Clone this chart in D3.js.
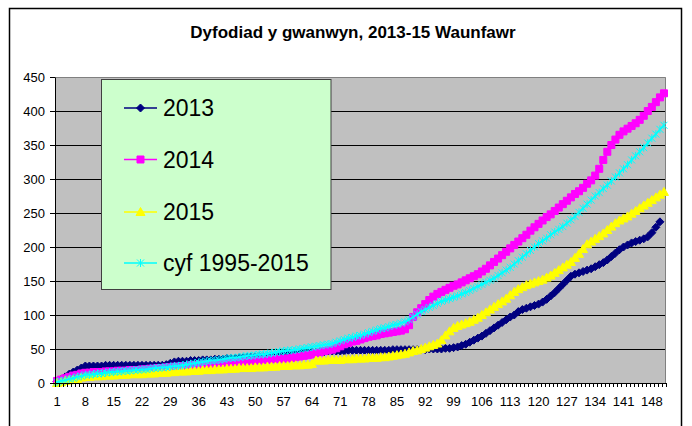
<!DOCTYPE html>
<html>
<head>
<meta charset="utf-8">
<title>Dyfodiad y gwanwyn, 2013-15 Waunfawr</title>
<script src="https://cdn.jsdelivr.net/npm/d3@7"></script>
<style>
	body { margin: 0; background: #fff; }
	svg { display: block; font-family: "Liberation Sans", Arial, sans-serif; }
</style>
</head>
<body>
<div id="chart"></div>
<script>

// day numbers along the x axis (1 .. 151)
var days = d3.range(1, 152);
var dayLabels = [1, 8, 15, 22, 29, 36, 43, 50, 57, 64, 71, 78, 85, 92, 99, 106, 113, 120, 127, 134, 141, 148];
var yTicks = [0, 50, 100, 150, 200, 250, 300, 350, 400, 450];

var seriesNames = ["2013", "2014", "2015", "cyf 1995-2015"];

// cumulative counts, one value per day
var counts2013 = [
	2, 5, 9, 13, 16, 19, 22, 25, 25, 25,
	25, 25, 26, 26, 26, 26, 26, 26, 26, 26,
	26, 26, 26, 26, 26, 26, 26, 27, 29, 31,
	32, 32, 32, 33, 33, 33, 34, 34, 34, 35,
	35, 35, 36, 36, 36, 37, 37, 38, 38, 38,
	39, 39, 39, 40, 40, 41, 41, 42, 42, 43,
	43, 44, 44, 45, 45, 46, 46, 47, 47, 47,
	47, 47, 48, 48, 48, 48, 48, 48, 48, 48,
	48, 48, 48, 49, 49, 49, 49, 49, 49, 49,
	49, 49, 50, 50, 50, 50, 51, 51, 52, 53,
	55, 57, 60, 63, 66, 69, 73, 77, 81, 85,
	89, 93, 97, 100, 105, 108, 110, 112, 114, 116,
	119, 123, 128, 133, 139, 145, 151, 157, 160, 162,
	164, 166, 168, 171, 174, 177, 181, 186, 191, 196,
	200, 203, 206, 208, 210, 212, 215, 221, 229, 237
];
var counts2014 = [
	3, 5, 7, 9, 11, 12, 14, 15, 15, 16,
	16, 16, 17, 17, 17, 18, 18, 18, 19, 19,
	19, 20, 20, 21, 21, 22, 22, 23, 23, 24,
	24, 25, 25, 26, 26, 27, 27, 28, 28, 28,
	29, 29, 29, 30, 30, 31, 31, 32, 32, 33,
	33, 34, 34, 35, 35, 35, 36, 36, 37, 38,
	39, 40, 41, 42, 44, 45, 47, 48, 49, 51,
	54, 57, 59, 61, 62, 64, 66, 68, 69, 70,
	72, 73, 74, 75, 76, 77, 79, 85, 97, 104,
	110, 116, 122, 127, 131, 134, 137, 140, 143, 145,
	148, 151, 154, 157, 160, 164, 168, 173, 178, 183,
	188, 193, 198, 203, 208, 213, 218, 224, 229, 234,
	239, 244, 248, 253, 258, 263, 268, 273, 278, 282,
	287, 293, 298, 305, 315, 328, 340, 350, 358, 365,
	370, 374, 378, 382, 387, 393, 400, 406, 413, 420,
	426
];
var counts2015 = [
	0, 1, 3, 4, 5, 6, 8, 9, 9, 10,
	10, 10, 11, 11, 11, 12, 12, 12, 13, 13,
	13, 13, 14, 14, 14, 15, 15, 15, 16, 16,
	17, 17, 17, 18, 18, 18, 19, 19, 19, 20,
	20, 20, 21, 21, 21, 22, 22, 22, 22, 23,
	23, 23, 24, 24, 24, 25, 25, 25, 26, 26,
	26, 27, 27, 28, 33, 33, 33, 34, 34, 34,
	34, 35, 35, 35, 36, 36, 36, 37, 37, 37,
	38, 38, 39, 40, 41, 42, 43, 45, 47, 48,
	50, 52, 54, 56, 58, 63, 70, 76, 81, 84,
	86, 88, 90, 93, 96, 100, 104, 108, 112, 116,
	120, 124, 129, 134, 138, 141, 144, 146, 148, 150,
	152, 155, 158, 162, 166, 170, 174, 178, 184, 190,
	197, 204, 208, 212, 216, 220, 225, 230, 235, 239,
	242, 245, 249, 253, 257, 261, 265, 269, 273, 277,
	281
];
var countsAvg = [
	1, 3, 4, 6, 7, 9, 10, 12, 12, 13,
	14, 14, 15, 16, 16, 17, 17, 18, 18, 19,
	19, 20, 20, 21, 22, 22, 23, 23, 24, 25,
	25, 26, 27, 28, 29, 30, 31, 32, 33, 33,
	34, 35, 36, 37, 37, 38, 39, 40, 40, 41,
	42, 42, 43, 44, 45, 46, 47, 48, 48, 49,
	50, 51, 52, 53, 54, 55, 56, 57, 58, 60,
	62, 64, 66, 67, 69, 70, 72, 74, 76, 78,
	80, 81, 83, 85, 86, 88, 90, 93, 97, 101,
	105, 108, 111, 114, 117, 120, 122, 124, 126, 128,
	131, 133, 136, 139, 142, 145, 148, 151, 154, 158,
	162, 166, 170, 175, 180, 185, 190, 195, 200, 205,
	209, 213, 218, 222, 226, 230, 235, 240, 245, 251,
	257, 263, 269, 275, 280, 286, 291, 297, 303, 309,
	315, 321, 328, 334, 340, 346, 353, 360, 366, 373,
	379
];

// marker shapes, Excel style
var markers = {
	diamond: { d: "M0,-4L4,0L0,4L-4,0Z", fill: true },
	square: { d: "M-3.5,-3.5H3.5V3.5H-3.5Z", fill: true },
	triangle: { d: "M0,-4.5L4.5,3.5H-4.5Z", fill: true },
	star: { d: "M-3.5,-3.5L3.5,3.5M-3.5,3.5L3.5,-3.5M0,-4V4", fill: false }
};

var series = [
	{ name: seriesNames[0], values: counts2013, color: "#000080", marker: markers.diamond },
	{ name: seriesNames[1], values: counts2014, color: "#ff00ff", marker: markers.square },
	{ name: seriesNames[2], values: counts2015, color: "#ffff00", marker: markers.triangle },
	{ name: seriesNames[3], values: countsAvg, color: "#00ffff", marker: markers.star }
];

var vis = {};
vis.margin = { top: 77, left: 55 };
vis.width = 611;
vis.height = 306;

vis.svg = d3.select("#chart").append("svg")
	.attr("width", 692)
	.attr("height", 426);

// chart frame
vis.svg.append("rect")
	.attr("x", 9.5).attr("y", 8.5)
	.attr("width", 672).attr("height", 430)
	.attr("fill", "#fff")
	.attr("stroke", "#000")
	.attr("stroke-width", 1.5);

vis.svg.append("text")
	.attr("x", 353).attr("y", 38)
	.attr("text-anchor", "middle")
	.attr("font-size", 17)
	.attr("font-weight", "bold")
	.text("Dyfodiad y gwanwyn, 2013-15 Waunfawr");

var g = vis.svg.append("g")
	.attr("transform", "translate(" + vis.margin.left + "," + vis.margin.top + ")");

var x = d3.scaleBand().domain(days).range([0, vis.width]);
var y = d3.scaleLinear().domain([0, 450]).range([vis.height, 0]);
var cx = function(i) { return x(days[i]) + x.bandwidth() / 2; };

// plot area
g.append("rect")
	.attr("width", vis.width).attr("height", vis.height)
	.attr("fill", "#c0c0c0");

g.selectAll(".grid").data(yTicks.filter(function(t) { return t > 0 && t < 450; }))
	.enter().append("line")
	.attr("class", "grid")
	.attr("x1", 0).attr("x2", vis.width)
	.attr("y1", function(d) { return Math.round(y(d)) + 0.5; })
	.attr("y2", function(d) { return Math.round(y(d)) + 0.5; })
	.attr("stroke", "#000");

g.append("path")
	.attr("d", "M0,0.5H" + (vis.width - 0.5) + "V" + vis.height)
	.attr("fill", "none")
	.attr("stroke", "#808080");

// lines + markers, one series after the other
var line = d3.line()
	.x(function(d, i) { return cx(i); })
	.y(function(d) { return y(d); });

series.forEach(function(s) {
	var sg = g.append("g").attr("class", "series");
	sg.append("path")
		.attr("d", line(s.values))
		.attr("fill", "none")
		.attr("stroke", s.color)
		.attr("stroke-width", 2);
	sg.selectAll(".mark").data(s.values)
		.enter().append("path")
		.attr("class", "mark")
		.attr("transform", function(d, i) { return "translate(" + cx(i) + "," + y(d) + ")"; })
		.attr("d", s.marker.d)
		.attr("fill", s.marker.fill ? s.color : "none")
		.attr("stroke", s.color)
		.attr("stroke-width", 1);
});

// y axis
var yAxis = d3.axisLeft(y).tickValues(yTicks).tickSize(5).tickSizeOuter(0).tickPadding(5);
var ya = g.append("g").attr("class", "axis y-axis").call(yAxis);
ya.selectAll("text").attr("font-size", 13).attr("fill", "#000");
ya.selectAll("line,path").attr("stroke", "#000");

// x axis: labels every 7 days, small tick between every day
var xAxis = d3.axisBottom(x).tickValues(dayLabels).tickSize(0).tickPadding(14);
var xa = g.append("g").attr("class", "axis x-axis")
	.attr("transform", "translate(0," + vis.height + ")")
	.call(xAxis);
xa.select(".domain").remove();
xa.selectAll("text").attr("font-size", 13).attr("fill", "#000");

xa.selectAll(".minor").data(days.map(function(d) { return x(d); }).concat([vis.width]))
	.enter().append("line")
	.attr("class", "minor")
	.attr("x1", function(d) { return Math.round(d) + 0.5; })
	.attr("x2", function(d) { return Math.round(d) + 0.5; })
	.attr("y1", 0).attr("y2", 4)
	.attr("stroke", "#000");

xa.append("line")
	.attr("x1", 0).attr("x2", vis.width)
	.attr("y1", 0.5).attr("y2", 0.5)
	.attr("stroke", "#000");

// legend
var legend = vis.svg.append("g").attr("class", "legend");
legend.append("rect")
	.attr("x", 101.5).attr("y", 79.5)
	.attr("width", 229.5).attr("height", 210)
	.attr("fill", "#ccffcc")
	.attr("stroke", "#404040");

var rowY = [108, 159.5, 212, 263];
var items = legend.selectAll(".item").data(series)
	.enter().append("g")
	.attr("class", "item")
	.attr("transform", function(d, i) { return "translate(0," + rowY[i] + ")"; });

items.append("line")
	.attr("x1", 124).attr("x2", 157)
	.attr("stroke", function(d) { return d.color; })
	.attr("stroke-width", 1.5);
items.append("path")
	.attr("transform", "translate(140.5,0)")
	.attr("d", function(d) { return d.marker.d; })
	.attr("fill", function(d) { return d.marker.fill ? d.color : "none"; })
	.attr("stroke", function(d) { return d.color; });
items.append("text")
	.attr("x", 163).attr("y", 8)
	.attr("font-size", 23)
	.attr("fill", "#000")
	.text(function(d) { return d.name; });

</script>
</body>
</html>
